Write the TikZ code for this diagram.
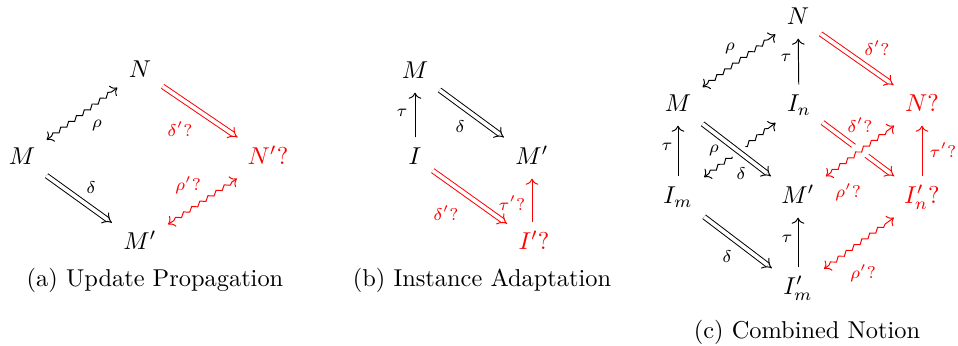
\documentclass[tikz,border=0pt]{standalone}
\usetikzlibrary{arrows.meta,decorations.pathmorphing}
\begin{document}
\begin{tikzpicture}[x=0.41pt,y=-0.41pt,
  obj/.style={inner sep=4.5pt, text height=1.5ex, text depth=0.25ex},
  lbl/.style={font=\scriptsize, inner sep=1pt},
  captxt/.style={inner sep=0pt},
  arr/.style={->},
  dbl/.style={double, double distance=1.5pt, -{Implies}},
  sq/.style={<->, decorate, decoration={snake, amplitude=0.75pt, segment length=4pt, pre length=2.5pt, post length=2.5pt}},
  gapline/.style={draw=white, line width=1.5ex, shorten <=14pt, shorten >=14pt}]
\useasboundingbox (0,0) rectangle (958,346);
% ---------- (a) ----------
\node[obj] (Na) at (140,71) {$N$};
\node[obj] (Ma) at (22,158) {$M$};
\node[obj,red] (Npa) at (268,158) {$N'?$};
\node[obj] (Mpa) at (140,243) {$M'$};
\draw[sq] (Ma) -- (Na);
\draw[dbl] (Ma) -- (Mpa);
\draw[dbl,red] (Na) -- (Npa);
\draw[sq,red] (Npa) -- (Mpa);
\node[lbl] (la1) at (97,125) {$\rho$};
\node[lbl] (la2) at (91,188) {$\delta$};
\node[lbl,red] (la3) at (180,129) {$\delta'?$};
\node[lbl,red] (la4) at (188,185) {$\rho'?$};
\node[captxt] (capa) at (155,280) {(a) Update Propagation};
% ---------- (b) ----------
\node[obj] (Mb) at (415,72) {$M$};
\node[obj] (Ib) at (415,158) {$I$};
\node[obj] (Mpb) at (532,158) {$M'$};
\node[obj,red] (Ipb) at (534,243) {$I'?$};
\draw[arr] (Ib) -- (Mb);
\draw[dbl] (Mb) -- (Mpb);
\draw[dbl,red] (Ib) -- (Ipb);
\draw[arr,red] (Ipb.north -| Mpb) -- (Mpb);
\node[lbl] (lb1) at (402,113) {$\tau$};
\node[lbl] (lb2) at (460,127) {$\delta$};
\node[lbl,red] (lb3) at (446,213) {$\delta'?$};
\node[lbl,red] (lb4) at (512,203) {$\tau'?$};
\node[captxt] (capb) at (482,280) {(b) Instance Adaptation};
% ---------- (c) ----------
\node[obj] (Nc) at (798,18) {$N$};
\node[obj] (Mc) at (678,105) {$M$};
\node[obj] (In) at (799,105) {$I_n$};
\node[obj,red] (Nq) at (922,105) {$N?$};
\node[obj] (Im) at (678,197) {$I_m$};
\node[obj] (Mpc) at (798,197) {$M'$};
\node[obj,red] (Ipn) at (922,197) {$I'_n?$};
\node[obj] (Ipm) at (798,288) {$I'_m$};
\draw[sq] (Mc) -- (Nc);
\draw[arr] (In) -- (Nc);
\draw[dbl,red] (Nc) -- (Nq);
\draw[arr] (Im) -- (Mc);
\draw[sq] (Im) -- (In);
\draw[gapline] (Mc) -- (Mpc);
\draw[dbl] (Mc) -- (Mpc);
\draw[dbl,red] (In) -- (Ipn);
\draw[gapline] (Mpc) -- (Nq);
\draw[sq,red] (Mpc) -- (Nq);
\draw[arr,red] (Ipn) -- (Nq);
\draw[dbl] (Im) -- (Ipm);
\draw[arr] (Ipm) -- (Mpc);
\draw[sq,red] (Ipm) -- (Ipn);
\node[lbl] (lc1) at (730,48) {$\rho$};
\node[lbl] (lc2) at (786,58) {$\tau$};
\node[lbl,red] (lc3) at (877,48) {$\delta'?$};
\node[lbl] (lc4) at (667,147) {$\tau$};
\node[lbl] (lc5) at (714,150) {$\rho$};
\node[lbl] (lc6) at (741,174) {$\delta$};
\node[lbl,red] (lc7) at (860,125) {$\delta'?$};
\node[lbl,red] (lc8) at (848,192) {$\rho'?$};
\node[lbl,red] (lc9) at (943,150) {$\tau'?$};
\node[lbl] (lc10) at (727,257) {$\delta$};
\node[lbl] (lc11) at (787,239) {$\tau$};
\node[lbl,red] (lc12) at (863,273) {$\rho'?$};
\node[captxt] (capc) at (807,332) {(c) Combined Notion};
\end{tikzpicture}
\end{document}
